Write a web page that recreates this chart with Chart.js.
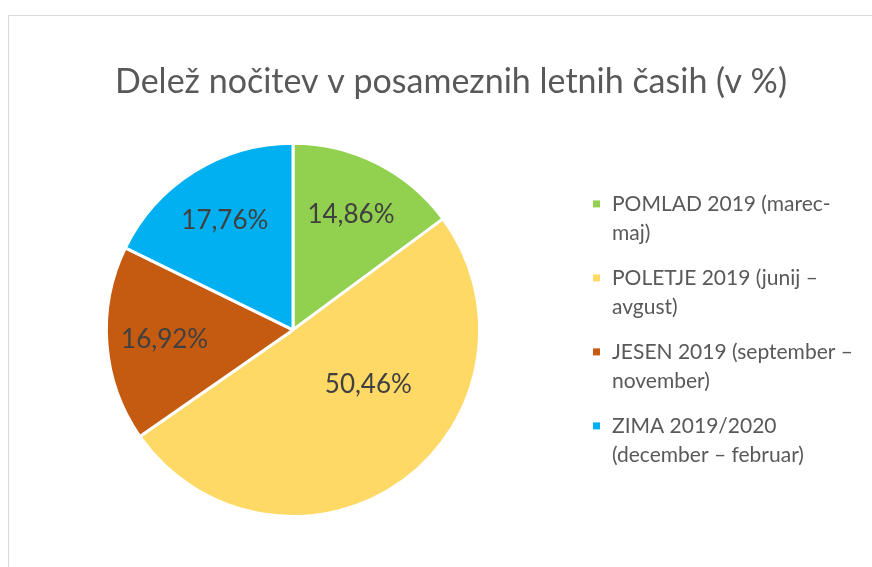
<!DOCTYPE html>
<html>
<head>
<meta charset="utf-8">
<script src="https://cdn.jsdelivr.net/npm/chart.js@4.4.0/dist/chart.umd.min.js"></script>
<style>
  html, body { margin: 0; padding: 0; background: #fff; overflow: hidden; }
  #frame { position: absolute; left: 8px; top: 15px; width: 900px; height: 600px; border: 1px solid #dadada; }
  #wrap { position: absolute; left: 0; top: 0; width: 872px; height: 567px; }
</style>
</head>
<body>
<div id="frame"></div>
<div id="wrap"><canvas id="seasonChart" width="872" height="567"></canvas></div>
<script>
// Seasons (legend text is already split into its two lines)
const seasons = [
  ['POMLAD 2019 (marec-', 'maj)'],
  ['POLETJE 2019 (junij –', 'avgust)'],
  ['JESEN 2019 (september –', 'november)'],
  ['ZIMA 2019/2020', '(december – februar)']
];
const shares = [14.86, 50.46, 16.92, 17.76];
const seasonColors = ['#92D050', '#FFD966', '#C55A11', '#00B0F0'];

const FONT = 'Lato, "Open Sans", sans-serif';

// ===== Percent labels inside the slices =====
const sliceLabels = {
  id: 'sliceLabels',
  afterDatasetsDraw(chart) {
    const ctx = chart.ctx;
    const meta = chart.getDatasetMeta(0);
    ctx.save();
    ctx.font = '26px ' + FONT;
    ctx.fillStyle = '#404040';
    ctx.textAlign = 'center';
    ctx.textBaseline = 'middle';
    meta.data.forEach((arc, i) => {
      const { x, y, startAngle, endAngle, outerRadius } =
        arc.getProps(['x', 'y', 'startAngle', 'endAngle', 'outerRadius'], true);
      const span = endAngle - startAngle;
      // big slices: label sits nearer the centre and leans toward the start edge
      const big = span > Math.PI;
      const mid = startAngle + span * (big ? 0.4 : 0.5);
      const f = big ? 0.5 : 0.69;
      const text = shares[i].toFixed(2).replace('.', ',') + '%';
      ctx.fillText(text, x + Math.cos(mid) * outerRadius * f, y + Math.sin(mid) * outerRadius * f);
    });
    ctx.restore();
  }
};

// ===== Legend on the right, with wrapped labels =====
const seasonLegend = {
  id: 'seasonLegend',
  beforeInit(chart) {
    const box = {
      position: 'right',
      weight: 1000,
      fullSize: false,
      options: {},
      left: 0, top: 0, right: 0, bottom: 0, width: 0, height: 0,
      isHorizontal() { return false; },
      update(maxWidth, maxHeight) {
        this.width = 316;
        this.height = maxHeight;
      },
      draw() {
        const ctx = chart.ctx;
        const lineH = 29, gap = 16;
        const labels = chart.data.labels;
        const colors = chart.data.datasets[0].backgroundColor;
        const total = labels.reduce((s, l) => s + l.length * lineH, 0) + gap * (labels.length - 1);
        let y = (this.top + this.bottom) / 2 - total / 2 + lineH / 2;
        ctx.save();
        ctx.font = '21px ' + FONT;
        ctx.textAlign = 'left';
        ctx.textBaseline = 'middle';
        labels.forEach((lines, i) => {
          ctx.fillStyle = colors[i];
          ctx.fillRect(this.left + 37, y - 4, 7, 7);
          ctx.fillStyle = '#595959';
          lines.forEach((line, j) => {
            ctx.fillText(line, this.left + 56, y + j * lineH);
          });
          y += lines.length * lineH + gap;
        });
        ctx.restore();
      }
    };
    Chart.layouts.addBox(chart, box);
  }
};

new Chart(document.getElementById('seasonChart'), {
  type: 'pie',
  data: {
    labels: seasons,
    datasets: [{
      data: shares,
      backgroundColor: seasonColors,
      borderColor: '#ffffff',
      borderWidth: 3
    }]
  },
  options: {
    responsive: false,
    animation: false,
    layout: { padding: { left: 30, right: 0, top: 0, bottom: 49 } },
    plugins: {
      legend: { display: false },
      tooltip: { enabled: false },
      title: {
        display: true,
        text: 'Delež nočitev v posameznih letnih časih (v %)',
        color: '#595959',
        font: { family: FONT, size: 34, weight: 'normal' },
        padding: { top: 62, bottom: 39 }
      }
    }
  },
  plugins: [sliceLabels, seasonLegend]
});
</script>
</body>
</html>
